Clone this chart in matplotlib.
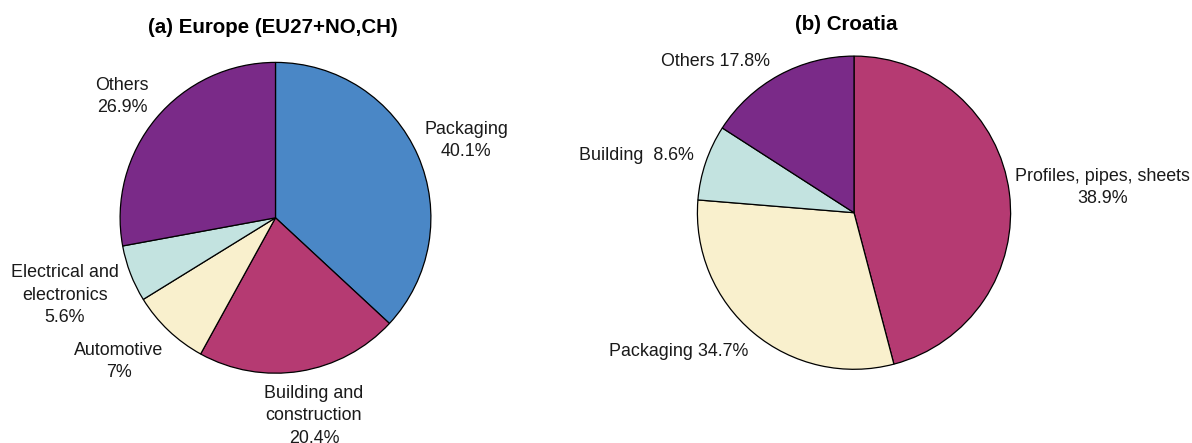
import matplotlib
matplotlib.use("Agg")
import matplotlib.pyplot as plt

plt.rcParams['font.family'] = ['Liberation Sans', 'DejaVu Sans']

# ---- Data (wedge sizes; labels as printed) ----
eu_categories = ["Packaging", "Building and\nconstruction", "Automotive",
                 "Electrical and\nelectronics", "Others"]
eu_values = [36.9, 21.1, 8.2, 5.9, 27.9]
eu_labels = ["Packaging\n40.1%", "Building and\nconstruction\n20.4%",
             "Automotive\n7%", "Electrical and\nelectronics\n5.6%",
             "Others\n26.9%"]

hr_categories = ["Profiles, pipes, sheets", "Packaging", "Building", "Others"]
hr_values = [45.9, 30.4, 7.8, 15.9]
hr_labels = ["Profiles, pipes, sheets\n38.9%", "Packaging 34.7%",
             "Building  8.6%", "Others 17.8%"]

eu_colors = ["#4A87C6", "#B53A72", "#F9F0CD", "#C3E3E0", "#7A2A88"]
hr_colors = ["#B53A72", "#F9F0CD", "#C3E3E0", "#7A2A88"]

W, H = 1192, 443
fig = plt.figure(figsize=(W / 100, H / 100), dpi=100)
ax = fig.add_axes([0, 0, 1, 1])

def Y(y):
    return H - y

wp = dict(edgecolor='black', linewidth=0.9)
ax.pie(eu_values, colors=eu_colors, startangle=90, counterclock=False,
       center=(275.5, Y(217.8)), radius=155.4, wedgeprops=wp, frame=True)
ax.pie(hr_values, colors=hr_colors, startangle=90, counterclock=False,
       center=(854, Y(212.7)), radius=156.6, wedgeprops=wp, frame=True)
ax.set_xlim(0, W)
ax.set_ylim(0, H)
ax.set_aspect('equal')
ax.axis('off')

fs = 12.9
ls = 1.43
eu_pos = [(466, 140.5), (314, 416), (119, 361.5), (65, 295), (122, 96.5)]
for lab, (x, y) in zip(eu_labels, eu_pos):
    ax.text(x, Y(y), lab, ha='center', va='center', fontsize=fs,
            color='#1a1a1a', linespacing=ls)

hr_pos = [(1102.5, 187.5), (678.7, 351.7), (636, 155), (715.5, 61)]
for lab, (x, y) in zip(hr_labels, hr_pos):
    ax.text(x, Y(y), lab, ha='center', va='center', fontsize=fs,
            color='#1a1a1a', linespacing=ls)

ax.text(272.5, Y(27), "(a) Europe (EU27+NO,CH)", ha='center', va='center',
        fontsize=14.8, fontweight='bold', color='black')
ax.text(846.5, Y(24), "(b) Croatia", ha='center', va='center',
        fontsize=14.8, fontweight='bold', color='black')

fig.savefig("out.png", dpi=100, facecolor='white')
